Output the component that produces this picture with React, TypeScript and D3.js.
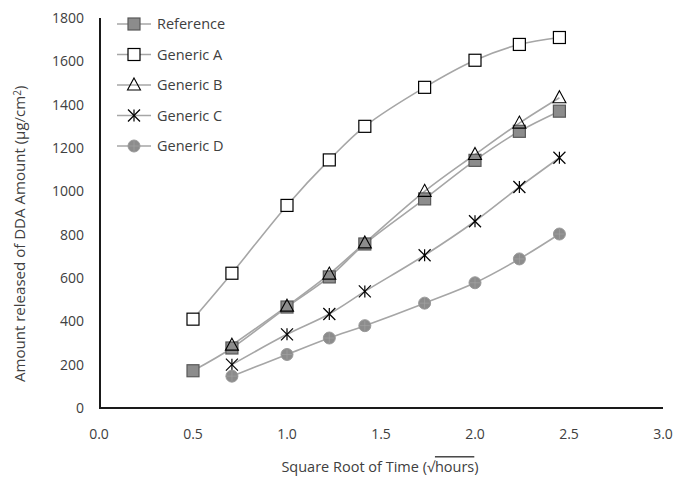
import React, { useLayoutEffect, useRef, useState } from "react";
import * as d3 from "d3";

const xValues = [0.5, 0.707, 1.0, 1.225, 1.414, 1.732, 2.0, 2.236, 2.449];
const referenceVals = [172, 277, 466, 605, 757, 965, 1143, 1277, 1370];
const genericA = [410, 622, 935, 1145, 1300, 1480, 1605, 1678, 1710];
const genericB = [null, 290, 470, 618, 762, 1000, 1170, 1315, 1432];
const genericC = [null, 200, 340, 434, 538, 705, 862, 1020, 1155];
const genericD = [null, 147, 247, 323, 380, 484, 578, 688, 803];
const seriesNames = ["Reference", "Generic A", "Generic B", "Generic C", "Generic D"];
const xTicks = [0, 0.5, 1, 1.5, 2, 2.5, 3];
const yTicks = [0, 200, 400, 600, 800, 1000, 1200, 1400, 1600, 1800];

const FONT = "'Open Sans', 'Noto Sans', sans-serif";
const LINE = "#a6a6a6";

function Marker({ kind, x, y }: { kind: string; x: number; y: number }) {
  const s = 6;
  if (kind === "Reference")
    return <rect x={x - s} y={y - s} width={2 * s} height={2 * s} fill="#8c8c8c" stroke="#595959" strokeWidth={1.2} />;
  if (kind === "Generic A")
    return <rect x={x - s} y={y - s} width={2 * s} height={2 * s} fill="#fff" stroke="#000" strokeWidth={1.2} />;
  if (kind === "Generic B")
    return <path d={`M${x},${y - 7}L${x + 6.5},${y + 5}L${x - 6.5},${y + 5}Z`} fill="none" stroke="#000" strokeWidth={1.1} />;
  if (kind === "Generic C")
    return (
      <g stroke="#000" strokeWidth={1.2}>
        <line x1={x - 6} y1={y - 6} x2={x + 6} y2={y + 6} />
        <line x1={x - 6} y1={y + 6} x2={x + 6} y2={y - 6} />
        <line x1={x} y1={y - 6} x2={x} y2={y + 6} />
      </g>
    );
  return (
    <g>
      <circle cx={x} cy={y} r={6} fill="#8c8c8c" stroke="#9a9a9a" strokeWidth={1} />
      <line x1={x - 5} y1={y} x2={x + 5} y2={y} stroke="#a6a6a6" strokeWidth={0.6} />
      <line x1={x} y1={y - 5} x2={x} y2={y + 5} stroke="#a6a6a6" strokeWidth={0.6} />
    </g>
  );
}

export default function App() {
  const width = 673;
  const height = 479;
  const x = d3.scaleLinear().domain([0, 3]).range([99, 663]);
  const y = d3.scaleLinear().domain([0, 1800]).range([408, 18]);
  const all = [referenceVals, genericA, genericB, genericC, genericD];
  const line = d3
    .line<[number, number]>()
    .x((d) => x(d[0]))
    .y((d) => y(d[1]))
    .curve(d3.curveCatmullRom.alpha(0.5));

  const labelRef = useRef<SVGTextElement>(null);
  const [labelFs, setLabelFs] = useState(12.8);
  const targetLen = 297;
  useLayoutEffect(() => {
    const el = labelRef.current;
    if (!el) return;
    const w = el.getBBox().width;
    if (w > 0 && Math.abs(w - targetLen) > 2) setLabelFs((fs) => (fs * targetLen) / w);
  }, [labelFs]);

  return (
    <svg width={width} height={height} style={{ position: "absolute", left: 0, top: 0, background: "#fff" }} fontFamily={FONT}>
      <rect width={width} height={height} fill="#fff" />
      {all.map((vals, i) => {
        const pts = xValues
          .map((xv, j) => [xv, vals[j]] as [number, number | null])
          .filter((p) => p[1] != null) as [number, number][];
        return <path key={"l" + i} d={line(pts) || ""} fill="none" stroke={LINE} strokeWidth={1.6} />;
      })}
      {all.map((vals, i) =>
        xValues.map((xv, j) =>
          vals[j] == null ? null : <Marker key={`m${i}-${j}`} kind={seriesNames[i]} x={x(xv)} y={y(vals[j] as number)} />
        )
      )}
      <line x1={100} y1={y(1800)} x2={100} y2={409} stroke="#1a1a1a" strokeWidth={2} />
      <line x1={99} y1={408} x2={663} y2={408} stroke="#1a1a1a" strokeWidth={2} />
      {yTicks.map((t) => (
        <text key={"y" + t} x={84} y={y(t)} dy="0.35em" textAnchor="end" fontSize={14} fill="#404040">
          {t}
        </text>
      ))}
      {xTicks.map((t) => (
        <text key={"x" + t} x={x(t)} y={434} dy="0.35em" textAnchor="middle" fontSize={14} fill="#404040">
          {t.toFixed(1)}
        </text>
      ))}
      <text x={380} y={467} dy="0.35em" textAnchor="middle" fontSize={14.5} fill="#404040">
        Square Root of Time (√<tspan style={{ textDecoration: "overline" }}>hours</tspan>)
      </text>
      <text
        ref={labelRef}
        transform="translate(20,382) rotate(-90)"
        textAnchor="start"
        dy="0.35em"
        fontSize={labelFs}
        fill="#404040"
      >
        Amount released of DDA Amount (μg/cm<tspan dy="-4" fontSize={labelFs * 0.66}>2</tspan>
        <tspan dy="4">)</tspan>
      </text>
      {seriesNames.map((n, i) => {
        const ly = 24 + i * 30.5;
        return (
          <g key={"lg" + i}>
            <line x1={117} x2={151} y1={ly} y2={ly} stroke={LINE} strokeWidth={1.6} />
            <Marker kind={n} x={134} y={ly} />
            <text x={157} y={ly} dy="0.35em" fontSize={14.5} fill="#404040">
              {n}
            </text>
          </g>
        );
      })}
    </svg>
  );
}
